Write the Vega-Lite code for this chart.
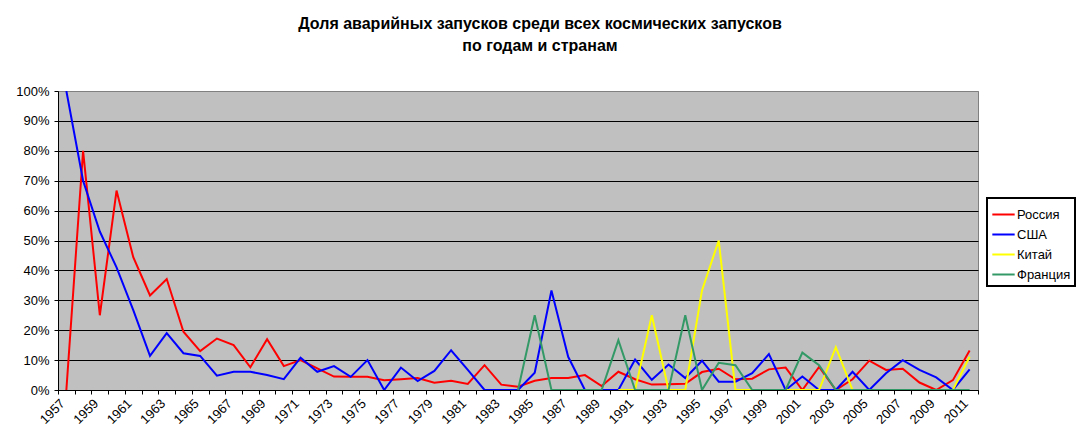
{
  "$schema": "https://vega.github.io/schema/vega-lite/v6.json",
  "autosize": {"type": "none"},
  "padding": {"left": 58, "top": 91, "right": 106, "bottom": 56},
  "width": 920,
  "height": 299,
  "title": {
    "text": ["Доля аварийных запусков среди всех космических запусков", "по годам и странам"],
    "fontSize": 16,
    "lineHeight": 22,
    "font": "Liberation Sans",
    "fontWeight": "bold",
    "color": "black",
    "anchor": "middle",
    "dx": 22,
    "offset": 31
  },
  "data": {
    "values": [
      {"year": 1957, "country": "Россия", "rate": 0},
      {"year": 1958, "country": "Россия", "rate": 0.8},
      {"year": 1959, "country": "Россия", "rate": 0.25},
      {"year": 1960, "country": "Россия", "rate": 0.667},
      {"year": 1961, "country": "Россия", "rate": 0.444},
      {"year": 1962, "country": "Россия", "rate": 0.316},
      {"year": 1963, "country": "Россия", "rate": 0.371},
      {"year": 1964, "country": "Россия", "rate": 0.195},
      {"year": 1965, "country": "Россия", "rate": 0.13},
      {"year": 1966, "country": "Россия", "rate": 0.172},
      {"year": 1967, "country": "Россия", "rate": 0.15},
      {"year": 1968, "country": "Россия", "rate": 0.076},
      {"year": 1969, "country": "Россия", "rate": 0.17},
      {"year": 1970, "country": "Россия", "rate": 0.08},
      {"year": 1971, "country": "Россия", "rate": 0.1},
      {"year": 1972, "country": "Россия", "rate": 0.072},
      {"year": 1973, "country": "Россия", "rate": 0.045},
      {"year": 1974, "country": "Россия", "rate": 0.044},
      {"year": 1975, "country": "Россия", "rate": 0.044},
      {"year": 1976, "country": "Россия", "rate": 0.033},
      {"year": 1977, "country": "Россия", "rate": 0.036},
      {"year": 1978, "country": "Россия", "rate": 0.04},
      {"year": 1979, "country": "Россия", "rate": 0.024},
      {"year": 1980, "country": "Россия", "rate": 0.031},
      {"year": 1981, "country": "Россия", "rate": 0.02},
      {"year": 1982, "country": "Россия", "rate": 0.083},
      {"year": 1983, "country": "Россия", "rate": 0.018},
      {"year": 1984, "country": "Россия", "rate": 0.011},
      {"year": 1985, "country": "Россия", "rate": 0.031},
      {"year": 1986, "country": "Россия", "rate": 0.04},
      {"year": 1987, "country": "Россия", "rate": 0.04},
      {"year": 1988, "country": "Россия", "rate": 0.05},
      {"year": 1989, "country": "Россия", "rate": 0.013},
      {"year": 1990, "country": "Россия", "rate": 0.061},
      {"year": 1991, "country": "Россия", "rate": 0.036},
      {"year": 1992, "country": "Россия", "rate": 0.018},
      {"year": 1993, "country": "Россия", "rate": 0.019},
      {"year": 1994, "country": "Россия", "rate": 0.021},
      {"year": 1995, "country": "Россия", "rate": 0.06},
      {"year": 1996, "country": "Россия", "rate": 0.071},
      {"year": 1997, "country": "Россия", "rate": 0.036},
      {"year": 1998, "country": "Россия", "rate": 0.038},
      {"year": 1999, "country": "Россия", "rate": 0.069},
      {"year": 2000, "country": "Россия", "rate": 0.075},
      {"year": 2001, "country": "Россия", "rate": 0},
      {"year": 2002, "country": "Россия", "rate": 0.077},
      {"year": 2003, "country": "Россия", "rate": 0},
      {"year": 2004, "country": "Россия", "rate": 0.036},
      {"year": 2005, "country": "Россия", "rate": 0.098},
      {"year": 2006, "country": "Россия", "rate": 0.067},
      {"year": 2007, "country": "Россия", "rate": 0.071},
      {"year": 2008, "country": "Россия", "rate": 0.025},
      {"year": 2009, "country": "Россия", "rate": 0},
      {"year": 2010, "country": "Россия", "rate": 0.033},
      {"year": 2011, "country": "Россия", "rate": 0.132},
      {"year": 1957, "country": "США", "rate": 1},
      {"year": 1958, "country": "США", "rate": 0.7},
      {"year": 1959, "country": "США", "rate": 0.53},
      {"year": 1960, "country": "США", "rate": 0.41},
      {"year": 1961, "country": "США", "rate": 0.267},
      {"year": 1962, "country": "США", "rate": 0.114},
      {"year": 1963, "country": "США", "rate": 0.19},
      {"year": 1964, "country": "США", "rate": 0.123},
      {"year": 1965, "country": "США", "rate": 0.114},
      {"year": 1966, "country": "США", "rate": 0.048},
      {"year": 1967, "country": "США", "rate": 0.061},
      {"year": 1968, "country": "США", "rate": 0.061},
      {"year": 1969, "country": "США", "rate": 0.05},
      {"year": 1970, "country": "США", "rate": 0.036},
      {"year": 1971, "country": "США", "rate": 0.108},
      {"year": 1972, "country": "США", "rate": 0.061},
      {"year": 1973, "country": "США", "rate": 0.08},
      {"year": 1974, "country": "США", "rate": 0.044},
      {"year": 1975, "country": "США", "rate": 0.1},
      {"year": 1976, "country": "США", "rate": 0},
      {"year": 1977, "country": "США", "rate": 0.075},
      {"year": 1978, "country": "США", "rate": 0.03},
      {"year": 1979, "country": "США", "rate": 0.064},
      {"year": 1980, "country": "США", "rate": 0.133},
      {"year": 1981, "country": "США", "rate": 0.067},
      {"year": 1982, "country": "США", "rate": 0},
      {"year": 1983, "country": "США", "rate": 0},
      {"year": 1984, "country": "США", "rate": 0},
      {"year": 1985, "country": "США", "rate": 0.058},
      {"year": 1986, "country": "США", "rate": 0.333},
      {"year": 1987, "country": "США", "rate": 0.111},
      {"year": 1988, "country": "США", "rate": 0},
      {"year": 1989, "country": "США", "rate": 0},
      {"year": 1990, "country": "США", "rate": 0},
      {"year": 1991, "country": "США", "rate": 0.102},
      {"year": 1992, "country": "США", "rate": 0.034},
      {"year": 1993, "country": "США", "rate": 0.085},
      {"year": 1994, "country": "США", "rate": 0.04},
      {"year": 1995, "country": "США", "rate": 0.098},
      {"year": 1996, "country": "США", "rate": 0.028},
      {"year": 1997, "country": "США", "rate": 0.028},
      {"year": 1998, "country": "США", "rate": 0.056},
      {"year": 1999, "country": "США", "rate": 0.12},
      {"year": 2000, "country": "США", "rate": 0},
      {"year": 2001, "country": "США", "rate": 0.045},
      {"year": 2002, "country": "США", "rate": 0},
      {"year": 2003, "country": "США", "rate": 0},
      {"year": 2004, "country": "США", "rate": 0.061},
      {"year": 2005, "country": "США", "rate": 0},
      {"year": 2006, "country": "США", "rate": 0.056},
      {"year": 2007, "country": "США", "rate": 0.1},
      {"year": 2008, "country": "США", "rate": 0.067},
      {"year": 2009, "country": "США", "rate": 0.042},
      {"year": 2010, "country": "США", "rate": 0},
      {"year": 2011, "country": "США", "rate": 0.069},
      {"year": 1990, "country": "Китай", "rate": 0},
      {"year": 1991, "country": "Китай", "rate": 0},
      {"year": 1992, "country": "Китай", "rate": 0.25},
      {"year": 1993, "country": "Китай", "rate": 0},
      {"year": 1994, "country": "Китай", "rate": 0},
      {"year": 1995, "country": "Китай", "rate": 0.333},
      {"year": 1996, "country": "Китай", "rate": 0.5},
      {"year": 1997, "country": "Китай", "rate": 0},
      {"year": 1998, "country": "Китай", "rate": 0},
      {"year": 1999, "country": "Китай", "rate": 0},
      {"year": 2000, "country": "Китай", "rate": 0},
      {"year": 2001, "country": "Китай", "rate": 0},
      {"year": 2002, "country": "Китай", "rate": 0},
      {"year": 2003, "country": "Китай", "rate": 0.143},
      {"year": 2004, "country": "Китай", "rate": 0},
      {"year": 2005, "country": "Китай", "rate": 0},
      {"year": 2006, "country": "Китай", "rate": 0},
      {"year": 2007, "country": "Китай", "rate": 0},
      {"year": 2008, "country": "Китай", "rate": 0},
      {"year": 2009, "country": "Китай", "rate": 0},
      {"year": 2010, "country": "Китай", "rate": 0},
      {"year": 2011, "country": "Китай", "rate": 0.111},
      {"year": 1984, "country": "Франция", "rate": 0},
      {"year": 1985, "country": "Франция", "rate": 0.25},
      {"year": 1986, "country": "Франция", "rate": 0},
      {"year": 1987, "country": "Франция", "rate": 0},
      {"year": 1988, "country": "Франция", "rate": 0},
      {"year": 1989, "country": "Франция", "rate": 0},
      {"year": 1990, "country": "Франция", "rate": 0.167},
      {"year": 1991, "country": "Франция", "rate": 0},
      {"year": 1992, "country": "Франция", "rate": 0},
      {"year": 1993, "country": "Франция", "rate": 0},
      {"year": 1994, "country": "Франция", "rate": 0.25},
      {"year": 1995, "country": "Франция", "rate": 0},
      {"year": 1996, "country": "Франция", "rate": 0.091},
      {"year": 1997, "country": "Франция", "rate": 0.083},
      {"year": 1998, "country": "Франция", "rate": 0},
      {"year": 1999, "country": "Франция", "rate": 0},
      {"year": 2000, "country": "Франция", "rate": 0},
      {"year": 2001, "country": "Франция", "rate": 0.125},
      {"year": 2002, "country": "Франция", "rate": 0.083},
      {"year": 2003, "country": "Франция", "rate": 0},
      {"year": 2004, "country": "Франция", "rate": 0},
      {"year": 2005, "country": "Франция", "rate": 0},
      {"year": 2006, "country": "Франция", "rate": 0},
      {"year": 2007, "country": "Франция", "rate": 0},
      {"year": 2008, "country": "Франция", "rate": 0},
      {"year": 2009, "country": "Франция", "rate": 0},
      {"year": 2010, "country": "Франция", "rate": 0},
      {"year": 2011, "country": "Франция", "rate": 0}
    ]
  },
  "mark": {"type": "line", "strokeWidth": 2, "clip": true},
  "encoding": {
    "x": {
      "field": "year",
      "type": "ordinal",
      "bandPosition": 0.5,
      "scale": {"type": "band", "paddingInner": 0, "paddingOuter": 0},
      "axis": {
        "title": null,
        "tickBand": "extent",
        "labelExpr": "datum.value % 2 == 1 ? '' + datum.value : ''",
        "labelAngle": -45,
        "labelAlign": "right",
        "labelBaseline": "middle",
        "labelOverlap": false,
        "labelPadding": 7,
        "labelOffset": -4,
        "tickSize": 4
      }
    },
    "y": {
      "field": "rate",
      "type": "quantitative",
      "scale": {"domain": [0, 1], "nice": false},
      "axis": {
        "title": null,
        "values": [0, 0.1, 0.2, 0.3, 0.4, 0.5, 0.6, 0.7, 0.8, 0.9, 1],
        "format": ".0%",
        "grid": true,
        "gridColor": {"condition": {"test": "datum.value >= 1", "value": "#808080"}, "value": "black"},
        "gridOpacity": 1,
        "tickSize": 4,
        "labelPadding": 5
      }
    },
    "color": {
      "field": "country",
      "type": "nominal",
      "sort": ["Россия", "США", "Китай", "Франция"],
      "scale": {
        "domain": ["Россия", "США", "Китай", "Франция"],
        "range": ["#ff0000", "#0000ff", "#ffff00", "#339966"]
      },
      "legend": {
        "title": null,
        "orient": "none",
        "legendX": 929,
        "legendY": 107,
        "symbolType": "stroke",
        "symbolSize": 500,
        "symbolStrokeWidth": 2,
        "labelOffset": 1,
        "rowPadding": 0,
        "padding": 4,
        "strokeColor": "black",
        "fillColor": "white"
      }
    }
  },
  "config": {
    "font": "Liberation Sans",
    "view": {"fill": "#c0c0c0", "stroke": "#808080"},
    "axis": {
      "labelFont": "Liberation Sans",
      "labelFontSize": 13,
      "labelColor": "black",
      "domainColor": "black",
      "tickColor": "black",
      "domainWidth": 1
    },
    "legend": {
      "labelFont": "Liberation Sans",
      "labelFontSize": 13,
      "labelColor": "black",
      "strokeWidth": 2
    }
  }
}
